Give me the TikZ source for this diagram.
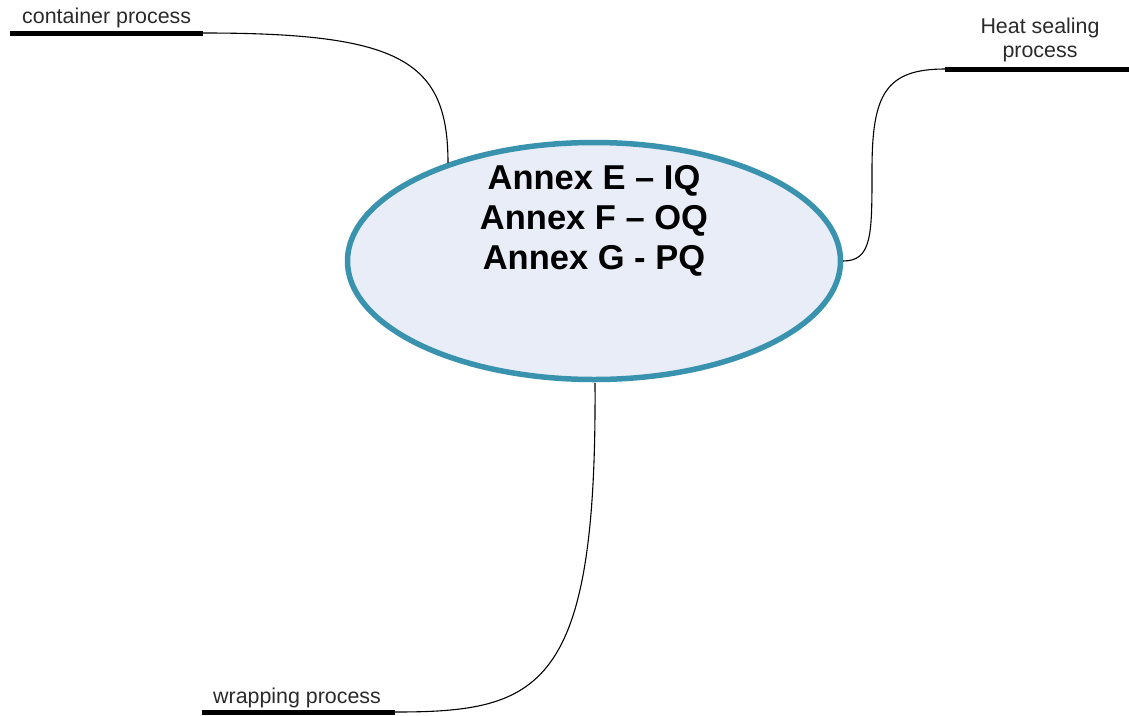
\documentclass[tikz,border=0pt]{standalone}
\usepackage{fontspec}
\setmainfont{Liberation Sans}
\usetikzlibrary{shapes.geometric}
\definecolor{ringcol}{HTML}{3A93AE}
\definecolor{fillcol}{HTML}{E9EDF7}
\definecolor{txtcol}{HTML}{2A2A2A}
\tikzset{
  hubstyle/.style={ellipse, draw=ringcol, fill=fillcol, line width=5.5pt, minimum width=493pt, minimum height=237pt, inner sep=0pt},
  bar/.style={line width=5pt, black},
  link/.style={line width=1.1pt, black},
  lbl/.style={font=\fontsize{21.4}{24}\selectfont, text=txtcol, inner sep=0pt},
  maintxt/.style={font=\fontsize{34.5}{40}\selectfont\bfseries, text=black, inner sep=0pt, anchor=base}
}
\begin{document}
\begin{tikzpicture}[x=1pt,y=-1pt]
\useasboundingbox (0,0) rectangle (1129,715);
\node[hubstyle] (hub) at (594,261) {};
\node[maintxt] (l1) at (594,189) {Annex E – IQ};
\node[maintxt] (l2) at (594,229) {Annex F – OQ};
\node[maintxt] (l3) at (594,269) {Annex G - PQ};
% container
\coordinate (ca) at (10,33);
\coordinate (cb) at (203,33);
\coordinate (ce) at (448,163);
\draw[bar] (ca) -- (cb);
\draw[link] (cb) .. controls (400,33) and (448,60) .. (ce);
\node[lbl, anchor=base west] (clbl) at (22,23) {container process};
% heat sealing
\coordinate (ha) at (945,69);
\coordinate (hb) at (1129,69);
\coordinate (hm) at (872,170);
\coordinate (he) at (843,261);
\draw[bar] (ha) -- (hb);
\draw[link] (he) .. controls (872,261) and (872,235) .. (hm) .. controls (872,95) and (885,69) .. (ha);
\node[lbl, anchor=base] (hlbl1) at (1040,33) {Heat sealing};
\node[lbl, anchor=base] (hlbl2) at (1040,57) {process};
% wrapping
\coordinate (wa) at (202,712);
\coordinate (wb) at (395,712);
\coordinate (we) at (595,383);
\draw[bar] (wa) -- (wb);
\draw[link] (we) .. controls (597,690) and (540,712) .. (wb);
\node[lbl, anchor=base west] (wlbl) at (213,703) {wrapping process};
\end{tikzpicture}
\end{document}
